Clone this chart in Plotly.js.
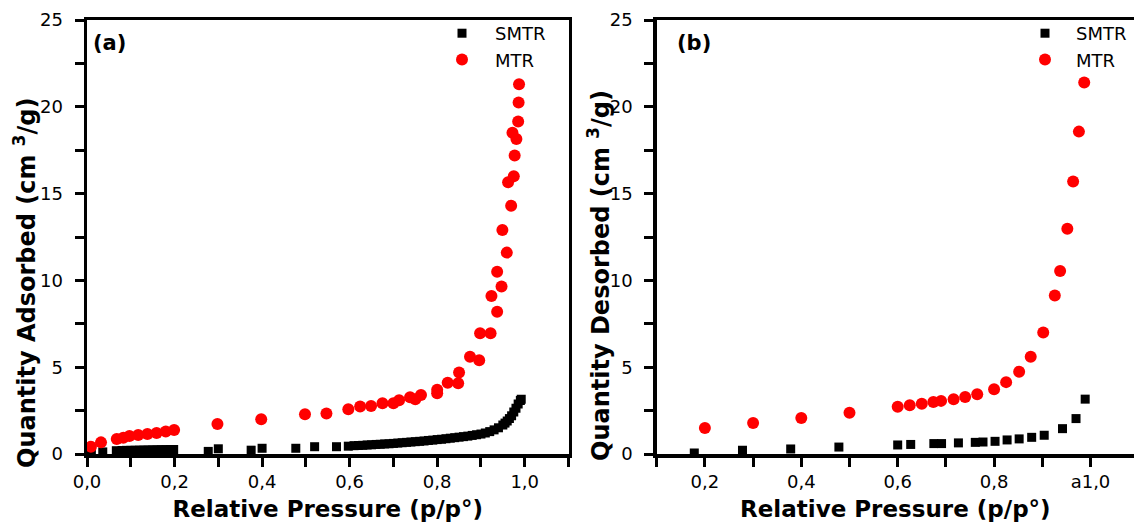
<!DOCTYPE html>
<html>
<head>
<meta charset="utf-8">
<script src="https://cdn.plot.ly/plotly-3.0.1.min.js"></script>
<style>html,body{margin:0;padding:0;background:#fff;}#chart{width:1134px;height:522px;}</style>
</head>
<body>
<div id="chart"></div>
<script>
// ---- Panel (a): adsorption ----
const adsSMTR_x = [0.01,0.036,0.067,0.08,0.09,0.10,0.11,0.12,0.13,0.14,0.15,0.16,0.17,0.18,0.19,0.198,
  0.277,0.30,0.375,0.40,0.477,0.52,0.57,0.597,
  0.61,0.62,0.63,0.64,0.65,0.66,0.67,0.68,0.69,0.70,0.71,0.72,0.73,0.74,0.75,0.76,0.77,0.78,0.79,0.80,
  0.81,0.82,0.83,0.84,0.85,0.86,0.87,0.88,0.89,0.90,0.91,0.92,0.93,0.94,0.95,0.955,0.96,0.965,0.97,0.975,0.98,0.985,0.99,0.992];
const adsSMTR_y = [0.08,0.12,0.19,0.20,0.21,0.21,0.22,0.22,0.23,0.23,0.24,0.24,0.25,0.25,0.26,0.26,
  0.15,0.30,0.22,0.33,0.33,0.42,0.42,0.45,
  0.48,0.49,0.50,0.52,0.53,0.55,0.56,0.58,0.59,0.61,0.63,0.65,0.67,0.69,0.71,0.73,0.75,0.78,0.80,0.83,
  0.85,0.88,0.91,0.94,0.97,1.00,1.03,1.07,1.11,1.15,1.21,1.29,1.39,1.51,1.67,1.78,1.90,2.04,2.20,2.42,2.64,2.88,3.08,3.15];

const adsMTR_x = [0.009,0.032,0.068,0.083,0.097,0.117,0.138,0.159,0.18,0.199,0.298,0.398,0.498,0.547,0.597,0.624,0.649,0.675,0.70,0.713,0.738,0.75,0.763,0.80,0.80,0.824,0.848,0.85,0.875,0.896,0.898,0.922,0.924,0.937,0.937,0.947,0.949,0.959,0.969,0.962,0.975,0.977,0.972,0.981,0.985,0.986,0.987];
const adsMTR_y = [0.42,0.67,0.87,0.94,1.04,1.10,1.15,1.21,1.29,1.38,1.73,2.00,2.29,2.33,2.58,2.73,2.77,2.92,2.92,3.10,3.27,3.15,3.40,3.70,3.50,4.10,4.08,4.70,5.60,5.40,6.96,6.96,9.10,8.20,10.50,9.65,12.90,11.60,14.30,15.65,16.00,17.20,18.50,18.15,19.15,20.25,21.30];

// ---- Panel (b): desorption ----
const desSMTR_x = [0.178,0.278,0.378,0.478,0.60,0.627,0.675,0.691,0.726,0.761,0.777,0.802,0.827,0.852,0.878,0.904,0.942,0.970,0.989];
const desSMTR_y = [0.06,0.21,0.29,0.40,0.52,0.55,0.60,0.60,0.64,0.67,0.69,0.73,0.81,0.87,0.96,1.08,1.46,2.04,3.16];

const desMTR_x = [0.20,0.30,0.40,0.50,0.60,0.625,0.65,0.674,0.69,0.716,0.74,0.765,0.80,0.825,0.852,0.876,0.902,0.926,0.937,0.952,0.964,0.976,0.987];
const desMTR_y = [1.50,1.79,2.08,2.37,2.72,2.81,2.90,3.00,3.06,3.16,3.29,3.44,3.73,4.14,4.74,5.60,7.00,9.13,10.54,12.97,15.70,18.57,21.40];

// ---- Tick labels ----
const xTickValsA = [0,0.2,0.4,0.6,0.8,1.0];
const xTickTextA = ["0,0","0,2","0,4","0,6","0,8","1,0"];
const xTickValsB = [0.2,0.4,0.6,0.8,1.0];
const xTickTextB = ["0,2","0,4","0,6","0,8","a1,0"];
const yTickVals = [0,5,10,15,20,25];
const yTickText = ["0","5","10","15","20","25"];

const seriesNames = ["SMTR","MTR"];
const panelLabels = ["(a)","(b)"];
const yTitles = ["Quantity Adsorbed (cm <sup>3</sup>/g)","Quantity Desorbed (cm <sup>3</sup>/g)"];
const xTitle = "Relative Pressure (p/p°)";

const W = 1134, H = 522;
const FAM = "DejaVu Sans, Arial, sans-serif";
const tickFont = {family:FAM, size:18, color:"#000"};
const titleFont = {family:FAM, size:23, color:"#000", weight:"bold"};
const yTitleFont = {family:FAM, size:24, color:"#000", weight:"bold"};

const sq = {symbol:"square", size:9, color:"#000000"};
const ci = {symbol:"circle", size:12, color:"#ff0000"};

const traces = [
  {x:adsSMTR_x, y:adsSMTR_y, type:"scatter", mode:"markers", name:seriesNames[0], marker:sq, xaxis:"x", yaxis:"y", legend:"legend"},
  {x:adsMTR_x, y:adsMTR_y, type:"scatter", mode:"markers", name:seriesNames[1], marker:ci, xaxis:"x", yaxis:"y", legend:"legend"},
  {x:desSMTR_x, y:desSMTR_y, type:"scatter", mode:"markers", name:seriesNames[0], marker:sq, xaxis:"x2", yaxis:"y2", legend:"legend2"},
  {x:desMTR_x, y:desMTR_y, type:"scatter", mode:"markers", name:seriesNames[1], marker:ci, xaxis:"x2", yaxis:"y2", legend:"legend2"}
];

const axisCommon = {
  showgrid:false, zeroline:false, showline:true, linecolor:"#000", linewidth:3.5,
  ticks:"outside", ticklen:9, tickwidth:3, tickcolor:"#000", tickfont:tickFont,
  tickmode:"array"
};
const xMinor = {tickmode:"linear", tick0:0, dtick:0.1, ticks:"outside", ticklen:9, tickwidth:3, tickcolor:"#000", showgrid:false};
const yMinor = {tickmode:"linear", tick0:0, dtick:2.5, ticks:"outside", ticklen:9, tickwidth:3, tickcolor:"#000", showgrid:false};

const layout = {
  width:W, height:H,
  margin:{l:0, r:0, t:20, b:68},
  paper_bgcolor:"#fff", plot_bgcolor:"#fff",
  showlegend:true,
  xaxis: Object.assign({}, axisCommon, {
    domain:[87/W, 568.5/W], range:[0,1.1], mirror:true,
    tickvals:xTickValsA, ticktext:xTickTextA, anchor:"y", minor:xMinor,
    title:{text:xTitle, font:titleFont, standoff:16}
  }),
  yaxis: Object.assign({}, axisCommon, {
    domain:[0,1], range:[0,25], mirror:true, anchor:"x", minor:yMinor,
    tickvals:yTickVals, ticktext:yTickText, ticklabelstandoff:8
  }),
  xaxis2: Object.assign({}, axisCommon, {
    domain:[656.7/W, 1], range:[0.1,1.0903], mirror:true,
    tickvals:xTickValsB, ticktext:xTickTextB, anchor:"y2", minor:xMinor,
    title:{text:xTitle, font:titleFont, standoff:16}
  }),
  yaxis2: Object.assign({}, axisCommon, {
    domain:[0,1], range:[0,25], mirror:false, anchor:"x2", minor:yMinor,
    tickvals:yTickVals, ticktext:yTickText, ticklabelstandoff:8
  }),
  legend:{x:429/W, xanchor:"left", y:1.0115, yanchor:"top", bgcolor:"rgba(0,0,0,0)", borderwidth:0,
    font:{family:FAM, size:18, color:"#000"}, itemwidth:56},
  legend2:{x:1014/W, xanchor:"left", y:1.0115, yanchor:"top", bgcolor:"rgba(0,0,0,0)", borderwidth:0,
    font:{family:FAM, size:18, color:"#000"}, itemwidth:52},
  annotations:[
    {text:panelLabels[0], xref:"paper", yref:"paper", x:91/W, y:1-(43-20)/434, xanchor:"left", yanchor:"middle", showarrow:false,
      font:{family:FAM, size:21, color:"#000", weight:"bold"}},
    {text:panelLabels[1], xref:"paper", yref:"paper", x:675/W, y:1-(43-20)/434, xanchor:"left", yanchor:"middle", showarrow:false,
      font:{family:FAM, size:21, color:"#000", weight:"bold"}},
    {text:yTitles[0], xref:"paper", yref:"paper", x:25/W, y:(454-283)/434, xanchor:"center", yanchor:"middle", textangle:-90, showarrow:false,
      font:yTitleFont},
    {text:yTitles[1], xref:"paper", yref:"paper", x:599/W, y:(454-276)/434, xanchor:"center", yanchor:"middle", textangle:-90, showarrow:false,
      font:yTitleFont}
  ]
};

Plotly.newPlot("chart", traces, layout, {displayModeBar:false, staticPlot:true});
</script>
</body>
</html>
